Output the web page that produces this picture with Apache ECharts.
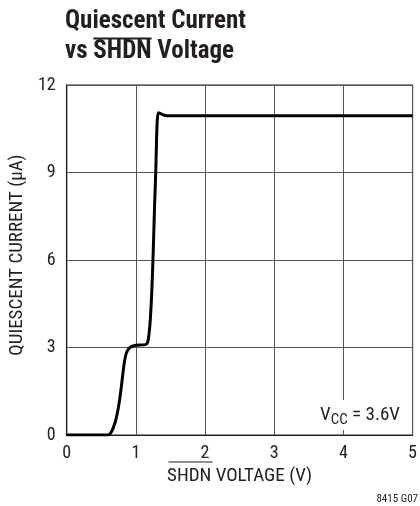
<!DOCTYPE html>
<html>
<head>
<meta charset="utf-8">
<script src="https://cdn.jsdelivr.net/npm/echarts@6/dist/echarts.min.js"></script>
<style>
html,body{margin:0;padding:0;background:#fff;}
#chart{width:420px;height:506px;}
</style>
</head>
<body>
<div id="chart"></div>
<script>
// ---- data ----
const xTicks = [0, 1, 2, 3, 4, 5];
const yTicks = [0, 3, 6, 9, 12];
const shdnVoltage = [0, 0.6, 0.65, 0.7, 0.735, 0.765, 0.79, 0.81, 0.83, 0.86, 0.9, 0.95, 1.0, 1.14, 1.17, 1.19, 1.21, 1.23, 1.25, 1.27, 1.29, 1.30, 1.31, 1.325, 1.35, 1.4, 1.45, 5];
const quiescentCurrent = [0, 0, 0.12, 0.43, 0.78, 1.2, 1.65, 2.05, 2.43, 2.79, 2.97, 3.05, 3.08, 3.1, 3.18, 3.45, 4.0, 4.9, 6.2, 7.8, 9.2, 10.2, 10.8, 11.05, 11.03, 10.97, 10.95, 10.95];

const FONT = '"Liberation Sans Narrow", "Roboto Condensed", "Arial Narrow", "Liberation Sans", sans-serif';
const ctx2 = document.createElement('canvas').getContext('2d');
function tw(text, size, weight) {
  ctx2.font = (weight || 'normal') + ' ' + size + 'px ' + FONT;
  return ctx2.measureText(text).width;
}

const GRID = {left: 66, right: 4, top: 85, bottom: 71};
const plotCenterX = GRID.left + (420 - GRID.left - GRID.right) / 2;

const titleSize = 25;
const xNameSize = 19;
const xNameText = 'SHDN VOLTAGE (V)';
const xNameW = tw(xNameText, xNameSize);
const xNameShdnW = tw('SHDN', xNameSize);
const xNameLeft = plotCenterX - xNameW / 2;
const titleVsW = tw('vs ', titleSize, 'bold');
const titleShdnW = tw('SHDN', titleSize, 'bold');

const seriesData = shdnVoltage.map((x, i) => [x, quiescentCurrent[i]]);

const chart = echarts.init(document.getElementById('chart'), null, {renderer: 'canvas'});
chart.setOption({
  animation: false,
  backgroundColor: '#fff',
  grid: {left: GRID.left, right: GRID.right, top: GRID.top, bottom: GRID.bottom, show: true, borderColor: '#222', borderWidth: 1.2},
  xAxis: {
    type: 'value', min: xTicks[0], max: xTicks[xTicks.length - 1], interval: 1,
    name: xNameText, nameLocation: 'middle', nameGap: 29,
    nameTextStyle: {fontFamily: FONT, fontSize: xNameSize, color: '#222'},
    axisLine: {show: true, lineStyle: {color: '#222', width: 1.2}},
    axisTick: {show: false},
    axisLabel: {fontFamily: FONT, fontSize: 18, color: '#222', margin: 9},
    splitLine: {show: true, lineStyle: {color: '#555', width: 1}}
  },
  yAxis: {
    type: 'value', min: yTicks[0], max: yTicks[yTicks.length - 1], interval: 3,
    name: 'QUIESCENT CURRENT (µA)', nameLocation: 'middle', nameGap: 36,
    nameTextStyle: {fontFamily: FONT, fontSize: 19, color: '#222', padding: [0, 0, 0, 10]},
    axisLine: {show: true, lineStyle: {color: '#222', width: 1.2}},
    axisTick: {show: false},
    axisLabel: {fontFamily: FONT, fontSize: 18, color: '#222', margin: 11},
    splitLine: {show: true, lineStyle: {color: '#555', width: 1}}
  },
  series: [{
    type: 'line', data: seriesData, showSymbol: false, smooth: 0.25,
    lineStyle: {color: '#000', width: 3}, z: 5
  }],
  graphic: [
    {type: 'text', left: 65, top: 9, style: {text: 'Quiescent Current', fontFamily: FONT, fontWeight: 'bold', fontSize: titleSize, fill: '#231f20'}},
    {type: 'text', left: 65, top: 39, style: {text: 'vs SHDN Voltage', fontFamily: FONT, fontWeight: 'bold', fontSize: titleSize, fill: '#231f20'}},
    {type: 'line', shape: {x1: 65 + titleVsW, y1: 38.5, x2: 65 + titleVsW + titleShdnW, y2: 38.5}, style: {stroke: '#231f20', lineWidth: 2}},
    {type: 'line', shape: {x1: xNameLeft, y1: 462, x2: xNameLeft + xNameShdnW, y2: 462}, style: {stroke: '#222', lineWidth: 1.2}},
    {type: 'text', right: 17, top: 400, z: 10, style: {
      text: '{a|V}{b|CC}{a| = 3.6V}',
      backgroundColor: '#fff', padding: [2, 3, 2, 3],
      rich: {
        a: {fontFamily: FONT, fontSize: 19, fill: '#222', lineHeight: 26, verticalAlign: 'middle'},
        b: {fontFamily: FONT, fontSize: 15, fill: '#222', lineHeight: 26, verticalAlign: 'bottom'}
      }
    }},
    {type: 'text', right: 2, top: 494, style: {text: '8415 G07', fontFamily: FONT, fontSize: 11, fill: '#222'}}
  ]
});
</script>
</body>
</html>
